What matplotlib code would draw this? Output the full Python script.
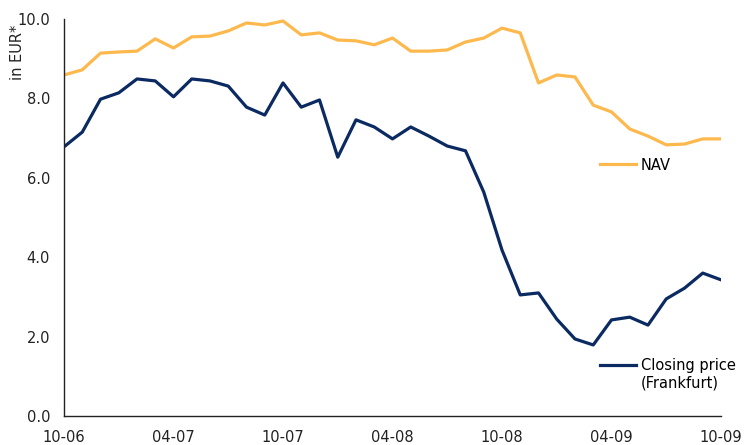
import matplotlib
matplotlib.use("Agg")
import matplotlib.pyplot as plt
from matplotlib.lines import Line2D

# ---------------------------------------------------------------
# data (monthly, 10-06 .. 10-09)
# ---------------------------------------------------------------

months = list( range( 37 ) )
tick_pos = [0, 6, 12, 18, 24, 30, 36]
tick_labels = ["10-06", "04-07", "10-07", "04-08", "10-08", "04-09", "10-09"]

nav = [8.59, 8.72, 9.14, 9.17, 9.19, 9.50, 9.27, 9.55, 9.57, 9.70,
       9.90, 9.85, 9.95, 9.60, 9.65, 9.47, 9.45, 9.35, 9.52, 9.19,
       9.19, 9.22, 9.42, 9.52, 9.77, 9.65, 8.39, 8.59, 8.54, 7.83,
       7.66, 7.23, 7.05, 6.83, 6.85, 6.98, 6.98]

closing = [6.78, 7.15, 7.98, 8.14, 8.49, 8.44, 8.04, 8.49, 8.44, 8.31,
           7.78, 7.58, 8.39, 7.78, 7.96, 6.52, 7.46, 7.28, 6.98, 7.28,
           7.05, 6.80, 6.68, 5.64, 4.18, 3.05, 3.10, 2.44, 1.94, 1.79,
           2.42, 2.49, 2.29, 2.95, 3.22, 3.60, 3.43]

nav_color = "#FDB94D"
closing_color = "#0B2A61"
text_color = "#222222"

# ---------------------------------------------------------------
# plot
# ---------------------------------------------------------------

plt.rcParams["font.family"] = ["DejaVu Sans"]
plt.rcParams["font.size"] = 10.5

fig = plt.figure( figsize=(7.44, 4.45), dpi=100 )
ax = fig.add_axes( [64 / 744, 1 - 416 / 445, (721 - 64) / 744, (416 - 19) / 445] )

l_nav, = ax.plot( months, nav, color=nav_color, lw=2.3 )
l_cls, = ax.plot( months, closing, color=closing_color, lw=2.3 )

# configure
ax.set_xlim( 0, 36 )
ax.set_ylim( 0, 10 )
ax.set_xticks( tick_pos )
ax.set_xticklabels( tick_labels )
ax.set_yticks( [0, 2, 4, 6, 8, 10] )
ax.set_yticklabels( ["%.1f" % v for v in [0, 2, 4, 6, 8, 10]] )
ax.tick_params( axis="y", length=0, pad=10, colors=text_color )
ax.tick_params( axis="x", length=0, pad=10, colors=text_color )
for side in ["top", "right"]:
    ax.spines[side].set_visible( False )
for side in ["left", "bottom"]:
    ax.spines[side].set_linewidth( 1.0 )
    ax.spines[side].set_color( text_color )

# y label sits at the top of the axis
fig.text( 17 / 744, 1 - 52 / 445, "in EUR*", rotation=90, ha="center", va="center",
          color=text_color, fontsize=10.5 )

# two separate legends, as in the original
leg_x = (600 - 64) / 657
leg1 = ax.legend( [l_nav], ["NAV"], loc="center left", bbox_to_anchor=(leg_x, 1 - (165 - 19) / 397),
                  frameon=False, handlelength=2.5, handletextpad=0.3, borderpad=0, borderaxespad=0 )
ax.add_artist( leg1 )
blank = Line2D( [], [], alpha=0 )
ax.legend( [l_cls, blank], ["Closing price", "(Frankfurt)"], loc="upper left",
           bbox_to_anchor=(leg_x, 1 - (358 - 19) / 397), frameon=False, handlelength=2.5,
           handletextpad=0.3, labelspacing=0.15, borderpad=0, borderaxespad=0 )

plt.savefig( "out.png", dpi=100 )
